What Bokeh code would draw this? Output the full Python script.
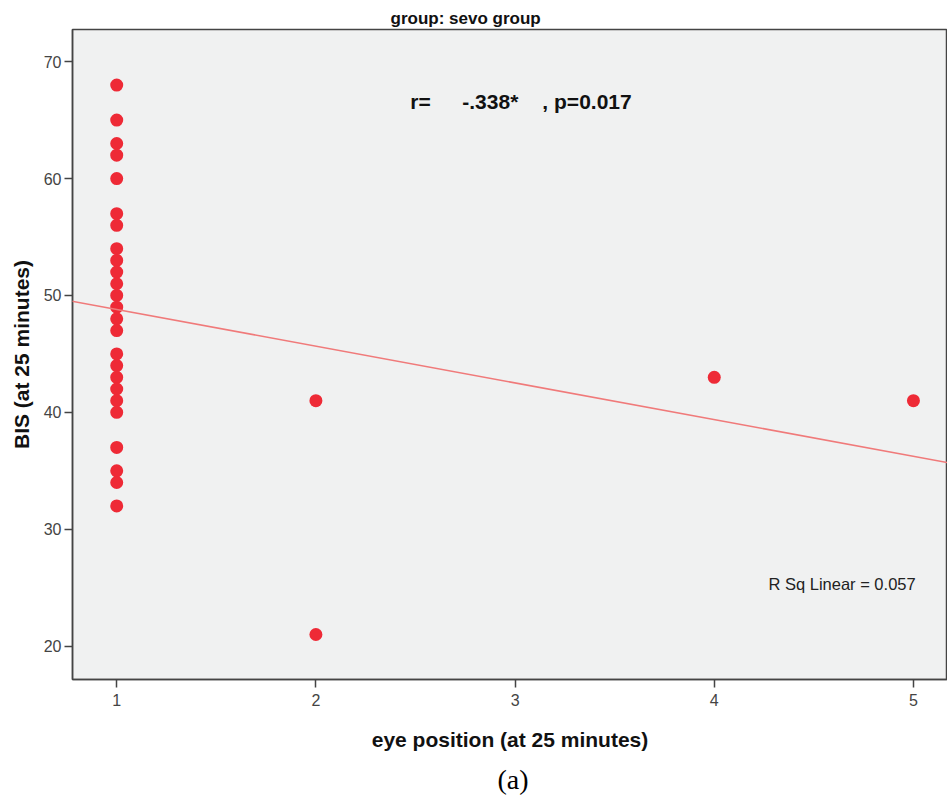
from bokeh.plotting import figure
from bokeh.models import Label, Title, Slope, FixedTicker
from bokeh.embed import file_html
from bokeh.resources import INLINE

# data
eye_position = [1]*25 + [2, 2, 4, 5]
bis = [68, 65, 63, 62, 60, 57, 56, 54, 53, 52, 51, 50, 49, 48, 47,
       45, 44, 43, 42, 41, 40, 37, 35, 34, 32,
       41, 21, 43, 41]
fit_intercept = 51.94
fit_slope = -3.14
x_ticks = [1, 2, 3, 4, 5]
y_ticks = [20, 30, 40, 50, 60, 70]
stat_parts = ["r=", "-.338*", ", p=0.017"]
stat_x = [2.474, 2.735, 3.137]
stat_y = 66.6
rsq_text = "R Sq Linear = 0.057"

p = figure(width=947, height=803, x_range=(0.778, 5.171), y_range=(17.15, 72.75),
           output_backend="svg", toolbar_location=None,
           min_border_left=72, min_border_right=0, min_border_top=29, min_border_bottom=124)

p.title.text = "group: sevo group"
p.title.text_font = "Liberation Sans"
p.title.text_font_size = "17px"
p.title.text_font_style = "bold"
p.title.text_color = "#111111"
p.title.align = "left"
p.title.offset = 318
p.title.standoff = 4

p.background_fill_color = "#f0f1f1"
p.border_fill_color = "white"
p.outline_line_color = "#444444"
p.outline_line_width = 1.5
p.xgrid.visible = False
p.ygrid.visible = False

for ax in (p.xaxis[0], p.yaxis[0]):
    ax.axis_line_color = "#444444"
    ax.axis_line_width = 1.5
    ax.major_tick_line_color = "#444444"
    ax.major_tick_line_width = 1.5
    ax.major_tick_out = 8
    ax.major_tick_in = 0
    ax.minor_tick_line_color = None
    ax.major_label_text_font = "Liberation Sans"
    ax.major_label_text_font_size = "16px"
    ax.major_label_text_color = "#444444"
    ax.axis_label_text_font = "Liberation Sans"
    ax.axis_label_text_font_size = "21px"
    ax.axis_label_text_font_style = "bold"
    ax.axis_label_text_color = "#111111"

p.xaxis.ticker = FixedTicker(ticks=x_ticks)
p.yaxis.ticker = FixedTicker(ticks=y_ticks)
p.xaxis.axis_label = "eye position (at 25 minutes)"
p.yaxis.axis_label = "BIS (at 25 minutes)"
p.xaxis.major_label_standoff = 6
p.xaxis.axis_label_standoff = 19
p.yaxis.major_label_standoff = 3
p.yaxis.axis_label_standoff = 8

p.add_layout(Slope(gradient=fit_slope, y_intercept=fit_intercept,
                   line_color="#f07a7a", line_width=1.6))

p.scatter(eye_position, bis, size=13, fill_color="#ee2a36", line_color="#ee2a36",
          line_width=0)

for t, xx in zip(stat_parts, stat_x):
    p.add_layout(Label(x=xx, y=stat_y, text=t, text_font="Liberation Sans",
                       text_font_size="21px", text_font_style="bold", text_color="#111111",
                       text_baseline="middle", text_align="left"))
p.add_layout(Label(x=4.272, y=25.36, text=rsq_text, text_font="Liberation Sans",
                   text_font_size="16.5px", text_color="#222222",
                   text_baseline="middle", text_align="left"))

p.add_layout(Title(text="(a)", text_font="Liberation Serif", text_font_size="28px",
                   text_font_style="normal", text_color="#000000", align="left",
                   offset=425, standoff=16), "below")

open("out.html", "w").write(file_html(p, INLINE))
